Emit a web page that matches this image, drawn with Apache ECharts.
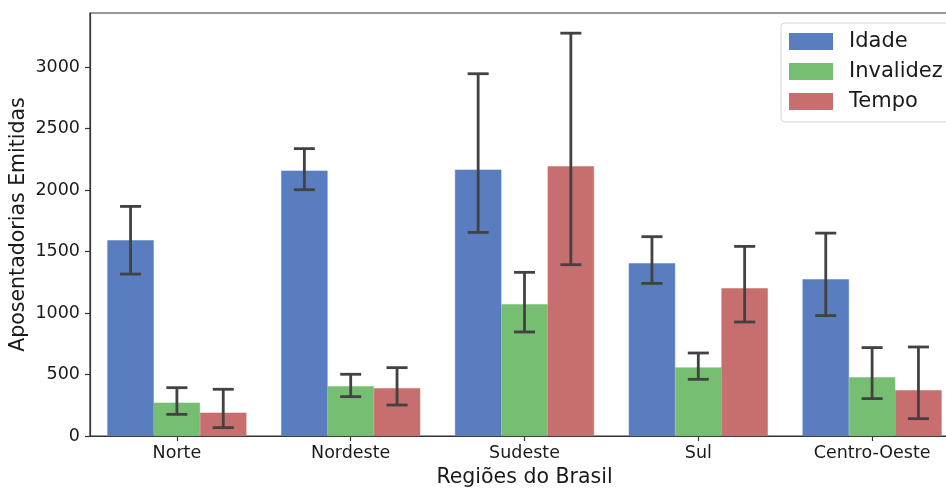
<!DOCTYPE html>
<html>
<head>
<meta charset="utf-8">
<script src="https://cdn.jsdelivr.net/npm/echarts@6/dist/echarts.min.js"></script>
<style>
  html, body { margin: 0; padding: 0; background: #fff; }
  #chart { width: 946px; height: 489px; }
</style>
</head>
<body>
<div id="chart"></div>
<script>
// Regions and retirement counts (mean per type, with confidence interval bounds)
const categories = ['Norte', 'Nordeste', 'Sudeste', 'Sul', 'Centro-Oeste'];
const seriesNames = ['Idade', 'Invalidez', 'Tempo'];

const idade     = [1591, 2158, 2166, 1404, 1274];
const idadeLow  = [1317, 2003, 1656, 1241, 979];
const idadeHigh = [1867, 2337, 2946, 1621, 1650];

const invalidez     = [271, 404, 1071, 558, 477];
const invalidezLow  = [176, 320, 846, 461, 304];
const invalidezHigh = [393, 502, 1331, 675, 719];

const tempo     = [190, 388, 2193, 1201, 372];
const tempoLow  = [68, 252, 1393, 927, 141];
const tempoHigh = [380, 556, 3276, 1542, 724];

const yTicks = [0, 500, 1000, 1500, 2000, 2500, 3000];

const colors = ['#597DBE', '#76BF72', '#C76E6E'];
const means = [idade, invalidez, tempo];
const lows = [idadeLow, invalidezLow, tempoLow];
const highs = [idadeHigh, invalidezHigh, tempoHigh];

const FONT = 'DejaVu Sans';
const errColor = '#424242';
const nHue = 3;
const groupFrac = 0.8;

function errorRenderer(k) {
  return function (params, api) {
    const idx = api.value(0);
    const lo = api.coord([idx, api.value(1)]);
    const hi = api.coord([idx, api.value(2)]);
    const band = api.size([1, 0])[0];
    const bw = band * groupFrac / nHue;
    const cx = lo[0] + (k - (nHue - 1) / 2) * bw;
    const half = bw * 0.227;
    const style = { stroke: errColor, lineWidth: 2.8, lineCap: 'butt' };
    return {
      type: 'group',
      children: [
        { type: 'line', shape: { x1: cx, y1: lo[1], x2: cx, y2: hi[1] }, style: style },
        { type: 'line', shape: { x1: cx - half, y1: lo[1], x2: cx + half, y2: lo[1] }, style: style },
        { type: 'line', shape: { x1: cx - half, y1: hi[1], x2: cx + half, y2: hi[1] }, style: style }
      ]
    };
  };
}

const series = [];
seriesNames.forEach(function (name, k) {
  series.push({
    name: name,
    type: 'bar',
    data: means[k],
    barGap: '0%',
    barCategoryGap: '20%',
    itemStyle: { color: colors[k], borderColor: colors[k], borderWidth: 0.5 },
    emphasis: { disabled: true },
    z: 2
  });
});
seriesNames.forEach(function (name, k) {
  series.push({
    type: 'custom',
    name: name + '-ic',
    renderItem: errorRenderer(k),
    data: categories.map(function (c, i) { return [i, lows[k][i], highs[k][i]]; }),
    encode: { x: 0, y: [1, 2] },
    clip: false,
    silent: true,
    z: 5
  });
});

const chart = echarts.init(document.getElementById('chart'), null, { renderer: 'canvas' });
chart.setOption({
  animation: false,
  backgroundColor: '#ffffff',
  textStyle: { fontFamily: FONT },
  grid: {
    left: 90, top: 13, width: 869, height: 423,
    show: true, borderColor: '#333333', borderWidth: 1.2,
    backgroundColor: 'transparent', containLabel: false,
    outerBoundsMode: 'none'
  },
  legend: {
    orient: 'vertical',
    left: 781, top: 23,
    data: seriesNames,
    itemWidth: 42, itemHeight: 15, itemGap: 9,
    icon: 'rect',
    padding: [8, 12, 10, 8],
    borderColor: '#d6d6d6', borderWidth: 1, borderRadius: 4,
    backgroundColor: 'rgba(255,255,255,0.8)',
    textStyle: { fontFamily: FONT, fontSize: 21, color: '#1a1a1a', padding: [0, 0, 0, 12] },
    selectedMode: false
  },
  xAxis: {
    type: 'category',
    data: categories,
    name: 'Regiões do Brasil',
    nameLocation: 'middle',
    nameGap: 31,
    nameMoveOverlap: false,
    nameTextStyle: { fontFamily: FONT, fontSize: 20.5, color: '#1a1a1a' },
    axisLine: { show: true, lineStyle: { color: '#333333', width: 1.2 } },
    axisTick: { show: true, alignWithLabel: true, length: 5, lineStyle: { color: '#333333', width: 1.2 } },
    axisLabel: { fontFamily: FONT, fontSize: 17.5, color: '#1a1a1a', margin: 8 },
    splitLine: { show: false }
  },
  yAxis: {
    type: 'value',
    min: 0, max: 3440, interval: 500,
    name: 'Aposentadorias Emitidas',
    nameLocation: 'middle',
    nameGap: 61,
    nameMoveOverlap: false,
    nameRotate: 90,
    nameTextStyle: { fontFamily: FONT, fontSize: 20.5, color: '#1a1a1a' },
    axisLine: { show: true, lineStyle: { color: '#333333', width: 1.2 } },
    axisTick: { show: true, length: 5, customValues: yTicks, lineStyle: { color: '#333333', width: 1.2 } },
    axisLabel: {
      fontFamily: FONT, fontSize: 17.5, color: '#1a1a1a', margin: 10, customValues: yTicks,
      formatter: function (v) { return String(v); }
    },
    splitLine: { show: false }
  },
  series: series
});
</script>
</body>
</html>
